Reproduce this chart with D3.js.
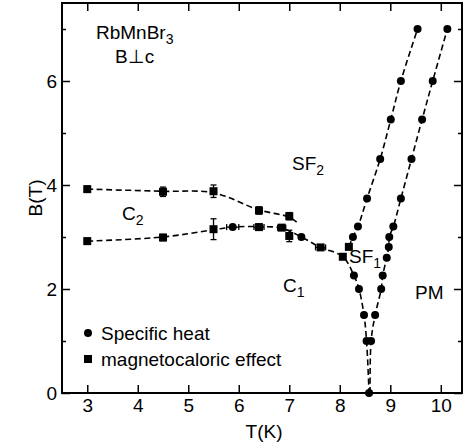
<!DOCTYPE html>
<html>
<head>
<meta charset="utf-8">
<script src="https://cdn.jsdelivr.net/npm/d3@7"></script>
<style>
  body { margin: 0; background: #fff; }
  text { font-family: "Liberation Sans", Arial, sans-serif; fill: #000; }
</style>
</head>
<body>
<div id="chart"></div>
<script>
// magnetocaloric effect: [T, B, dB (vertical error), dT (horizontal error)]
const magnetoUpper = [[3.0, 3.92, 0.06, 0], [4.5, 3.87, 0.09, 0], [5.5, 3.88, 0.12, 0], [6.4, 3.51, 0.07, 0], [7.0, 3.40, 0.07, 0]];
const magnetoLower = [[3.0, 2.92, 0.06, 0], [4.5, 2.99, 0.06, 0], [5.5, 3.15, 0.2, 0], [6.4, 3.19, 0.06, 0.1],
                      [6.85, 3.18, 0.05, 0.08], [7.0, 3.02, 0.11, 0], [7.62, 2.80, 0, 0.1], [8.06, 2.62, 0, 0], [8.18, 2.81, 0, 0]];
// specific heat: [T, B, dT]
const heatLeft = [[8.58, 0], [8.53, 1.0], [8.48, 1.5], [8.38, 2.0], [8.28, 2.26], [8.26, 3.0], [8.36, 3.2],
                  [8.54, 3.74], [8.80, 4.5], [9.01, 5.26], [9.21, 6.0], [9.54, 7.0]];
const heatRight = [[8.62, 1.0], [8.70, 1.5], [8.82, 2.0], [8.85, 2.26], [8.93, 2.6], [8.97, 2.81], [8.98, 3.0],
                   [9.06, 3.2], [9.21, 3.74], [9.42, 4.5], [9.63, 5.26], [9.84, 6.0], [10.13, 7.0]];
const heatOther = [[5.88, 3.19, 0.12], [7.24, 3.0, 0]];

// dashed phase boundaries
const lineC2SF2 = [[3.0, 3.92], [4.5, 3.88], [5.5, 3.85], [6.4, 3.52], [7.0, 3.38], [7.2, 3.24]];
const lineC2C1 = [[3.0, 2.92], [4.5, 3.0], [5.5, 3.14], [5.88, 3.19], [6.4, 3.2], [6.85, 3.17], [7.24, 3.0],
                  [7.62, 2.8], [8.06, 2.62], [8.28, 2.26], [8.38, 2.0], [8.48, 1.5], [8.53, 1.0], [8.58, 0]];
const lineSF1Left = [[8.18, 2.81], [8.26, 3.0], [8.36, 3.2], [8.54, 3.74], [8.80, 4.5], [9.01, 5.26], [9.21, 6.0], [9.54, 7.0]];
const lineSF1Right = [[8.6, 0], [8.62, 1.0], [8.70, 1.5], [8.82, 2.0], [8.85, 2.26], [8.93, 2.6], [8.97, 2.81],
                      [8.98, 3.0], [9.06, 3.2], [9.21, 3.74], [9.42, 4.5], [9.63, 5.26], [9.84, 6.0], [10.13, 7.0]];

const xTicks = [3, 4, 5, 6, 7, 8, 9, 10];
const yTicks = [0, 2, 4, 6];
const yMinor = [1, 3, 5, 7];

const W = 466, H = 447;
const margin = {top: 3, right: 4, bottom: 54, left: 62};
const width = W - margin.left - margin.right;
const height = H - margin.top - margin.bottom;

const svg = d3.select('#chart').append('svg')
    .attr('width', W).attr('height', H)
  .append('g')
    .attr('transform', `translate(${margin.left},${margin.top})`);

const x = d3.scaleLinear().domain([2.5, 10.42]).range([0, width]);
const y = d3.scaleLinear().domain([0, 7.5]).range([height, 0]);

// axes with inward ticks on all four sides
const tickFont = '19px';
const bottom = svg.append('g').attr('transform', `translate(0,${height})`)
    .call(d3.axisBottom(x).tickValues(xTicks).tickSize(-8).tickPadding(6).tickFormat(d3.format('d')));
svg.append('g').call(d3.axisTop(x).tickValues(xTicks).tickSize(-8).tickFormat(''));
const left = svg.append('g')
    .call(d3.axisLeft(y).tickValues(yTicks).tickSize(-8).tickPadding(5).tickFormat(d3.format('d')));
svg.append('g').call(d3.axisLeft(y).tickValues(yMinor).tickSize(-4).tickFormat(''));
svg.append('g').attr('transform', `translate(${width},0)`)
    .call(d3.axisRight(y).tickValues(yTicks).tickSize(-8).tickFormat(''));
svg.append('g').attr('transform', `translate(${width},0)`)
    .call(d3.axisRight(y).tickValues(yMinor).tickSize(-4).tickFormat(''));
svg.selectAll('.domain').remove();
svg.selectAll('.tick line').attr('stroke', '#000').attr('stroke-width', 1.5);
svg.selectAll('.tick text').style('font-size', tickFont).attr('fill', '#000');

svg.append('rect').attr('width', width).attr('height', height)
    .attr('fill', 'none').attr('stroke', '#000').attr('stroke-width', 2);

// dashed boundaries
const line = d3.line().x(d => x(d[0])).y(d => y(d[1])).curve(d3.curveCatmullRom.alpha(0.5));
[lineC2SF2, lineC2C1, lineSF1Left, lineSF1Right].forEach(pts => {
  svg.append('path').datum(pts).attr('d', line)
     .attr('fill', 'none').attr('stroke', '#000').attr('stroke-width', 1.6)
     .attr('stroke-dasharray', '6,3.5');
});

// error bars
const magneto = magnetoUpper.concat(magnetoLower);
const eb = svg.append('g').attr('stroke', '#000').attr('stroke-width', 1.3);
magneto.filter(d => d[2] > 0).forEach(d => {
  eb.append('line').attr('x1', x(d[0])).attr('x2', x(d[0])).attr('y1', y(d[1] - d[2])).attr('y2', y(d[1] + d[2]));
  [d[1] - d[2], d[1] + d[2]].forEach(v => eb.append('line')
      .attr('x1', x(d[0]) - 3).attr('x2', x(d[0]) + 3).attr('y1', y(v)).attr('y2', y(v)));
});
magneto.concat(heatOther).filter(d => d.length > 3 ? d[3] > 0 : d[2] > 0).forEach(d => {
  const dt = d.length > 3 ? d[3] : d[2];
  eb.append('line').attr('x1', x(d[0] - dt)).attr('x2', x(d[0] + dt)).attr('y1', y(d[1])).attr('y2', y(d[1]));
  [d[0] - dt, d[0] + dt].forEach(v => eb.append('line')
      .attr('x1', x(v)).attr('x2', x(v)).attr('y1', y(d[1]) - 3).attr('y2', y(d[1]) + 3));
});

// markers
svg.selectAll('.sq').data(magneto).enter().append('rect')
    .attr('x', d => x(d[0]) - 4).attr('y', d => y(d[1]) - 4)
    .attr('width', 8).attr('height', 8).attr('fill', '#000');
svg.selectAll('.dot').data(heatLeft.concat(heatRight, heatOther)).enter().append('circle')
    .attr('cx', d => x(d[0])).attr('cy', d => y(d[1])).attr('r', 4).attr('fill', '#000');

// labels
const root = d3.select('svg');
function label(tx, ty, main, sub, size) {
  const t = root.append('text').attr('x', tx).attr('y', ty).style('font-size', (size || 19) + 'px');
  t.append('tspan').text(main);
  if (sub) t.append('tspan').attr('dy', 5).style('font-size', '14px').text(sub);
  return t;
}
label(96, 39, 'RbMnBr', '3');
label(115, 63, 'B\u22A5c');
label(122, 220, 'C', '2');
label(292, 170, 'SF', '2');
label(283, 292, 'C', '1');
label(349, 263, 'SF', '1');
label(415, 299, 'PM');

// legend
root.append('circle').attr('cx', 88).attr('cy', 333).attr('r', 4).attr('fill', '#000');
root.append('rect').attr('x', 84).attr('y', 355).attr('width', 8).attr('height', 8).attr('fill', '#000');
label(101, 340, 'Specific heat');
label(101, 366, 'magnetocaloric effect');

// axis titles
root.append('text').attr('x', 264).attr('y', 438).attr('text-anchor', 'middle')
    .style('font-size', '19px').text('T(K)');
root.append('text').attr('transform', 'translate(42,198) rotate(-90)').attr('text-anchor', 'middle')
    .style('font-size', '19px').text('B(T)');
</script>
</body>
</html>
